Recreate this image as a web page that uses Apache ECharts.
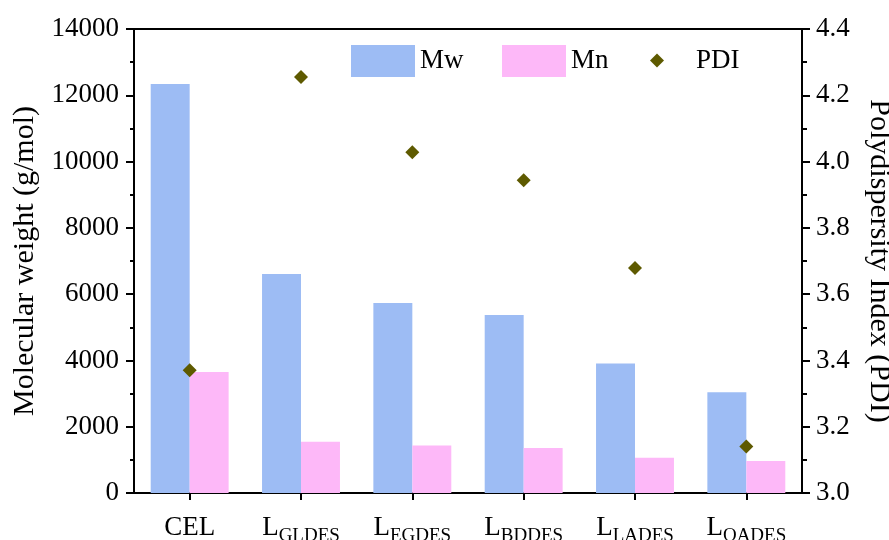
<!DOCTYPE html>
<html><head><meta charset="utf-8">
<script src="https://cdn.jsdelivr.net/npm/echarts@6/dist/echarts.min.js"></script>
<style>html,body{margin:0;padding:0;background:#fff}#c{width:889px;height:540px}</style>
</head><body><div id="c"></div>
<script>
var categories = ['CEL', 'GLDES', 'EGDES', 'BDDES', 'LADES', 'OADES'];
var mwValues = [12340, 6610, 5730, 5370, 3910, 3040];
var mnValues = [3650, 1550, 1430, 1360, 1060, 965];
var pdiValues = [3.37, 4.255, 4.028, 3.944, 3.679, 3.14];
var leftTicks = [0, 2000, 4000, 6000, 8000, 10000, 12000, 14000];
var rightTicks = [3.0, 3.2, 3.4, 3.6, 3.8, 4.0, 4.2, 4.4];

var FONT = '"Liberation Serif", "Times New Roman", serif';
var chart = echarts.init(document.getElementById('c'), null, {renderer: 'canvas'});
var legendText = {fontFamily: FONT, fontSize: 27, color: '#000'};
chart.setOption({
  animation: false,
  backgroundColor: '#fff',
  textStyle: {fontFamily: FONT},
  grid: {left: 134, right: 87, top: 29, bottom: 47, containLabel: false, outerBoundsMode: 'none',
         show: true, borderColor: '#000', borderWidth: 2, backgroundColor: 'transparent'},
  legend: [
    {data: [{name: 'Mw', icon: 'rect'}], left: 346, top: 40, itemWidth: 64, itemHeight: 32, itemGap: 0, textStyle: legendText, selectedMode: false},
    {data: [{name: 'Mn', icon: 'rect'}], left: 497, top: 40, itemWidth: 64, itemHeight: 32, itemGap: 0, textStyle: legendText, selectedMode: false},
    {data: [{name: 'PDI', icon: 'diamond'}], left: 645, top: 42, itemWidth: 14, itemHeight: 14, itemGap: 0,
     textStyle: Object.assign({padding: [0, 0, 0, 27]}, legendText), selectedMode: false}
  ],
  xAxis: {
    type: 'category', data: categories,
    axisLine: {lineStyle: {color: '#000', width: 2}},
    axisTick: {show: true, alignWithLabel: true, length: 7, lineStyle: {color: '#000', width: 2}},
    axisLabel: {
      interval: 0, margin: 21, color: '#000', verticalAlign: 'top',
      formatter: function (v) { return v === 'CEL' ? '{m|CEL}' : '{m|L}{s|' + v + '}'; },
      rich: {
        m: {fontFamily: FONT, fontSize: 27, lineHeight: 30, verticalAlign: 'top', color: '#000'},
        s: {fontFamily: FONT, fontSize: 19, lineHeight: 32, verticalAlign: 'bottom', color: '#000'}
      }
    },
    splitLine: {show: false}
  },
  yAxis: [
    {
      type: 'value', min: leftTicks[0], max: leftTicks[leftTicks.length - 1], interval: leftTicks[1] - leftTicks[0],
      name: 'Molecular weight (g/mol)', nameLocation: 'middle', nameGap: 92,
      nameTextStyle: {fontFamily: FONT, fontSize: 30, color: '#000'},
      axisLine: {show: true, lineStyle: {color: '#000', width: 2}},
      axisTick: {show: true, inside: false, length: 8, lineStyle: {color: '#000', width: 2}},
      minorTick: {show: true, splitNumber: 2, length: 4, lineStyle: {color: '#000', width: 2}},
      axisLabel: {fontFamily: FONT, fontSize: 27, color: '#000', margin: 15, formatter: function (v) { return String(v); }},
      splitLine: {show: false}
    },
    {
      type: 'value', min: rightTicks[0], max: rightTicks[rightTicks.length - 1], interval: 0.2,
      position: 'right',
      name: 'Polydispersity Index (PDI)', nameLocation: 'middle', nameGap: 62, nameRotate: -90,
      nameTextStyle: {fontFamily: FONT, fontSize: 30, color: '#000'},
      axisLine: {show: true, lineStyle: {color: '#000', width: 2}},
      axisTick: {show: true, inside: false, length: 8, lineStyle: {color: '#000', width: 2}},
      minorTick: {show: true, splitNumber: 2, length: 5, lineStyle: {color: '#000', width: 2}},
      axisLabel: {fontFamily: FONT, fontSize: 27, color: '#000', margin: 14, formatter: function (v) { return v.toFixed(1); }},
      splitLine: {show: false}
    }
  ],
  series: [
    {name: 'Mw', type: 'bar', data: mwValues, barGap: '0%', barCategoryGap: '30%', itemStyle: {color: '#9dbcf4'}},
    {name: 'Mn', type: 'bar', data: mnValues, barGap: '0%', barCategoryGap: '30%', itemStyle: {color: '#fdb8f8'}},
    {name: 'PDI', type: 'scatter', yAxisIndex: 1, data: pdiValues, symbol: 'diamond', symbolSize: 14, itemStyle: {color: '#5e5a00', opacity: 1}}
  ]
});
</script></body></html>
